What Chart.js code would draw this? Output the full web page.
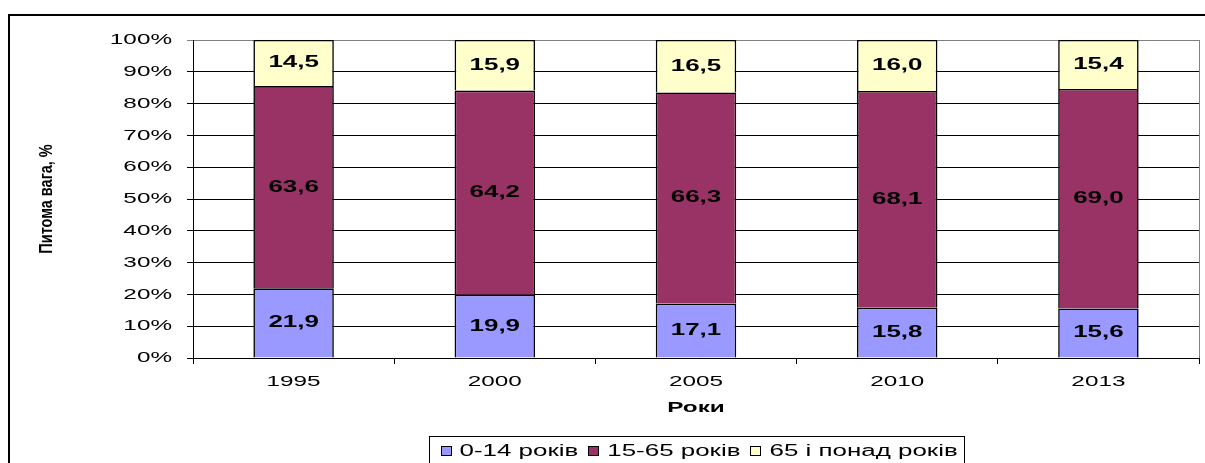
<!DOCTYPE html>
<html>
<head>
<meta charset="utf-8">
<title>Питома вага вікових груп</title>
<script src="https://cdn.jsdelivr.net/npm/chart.js@4/dist/chart.umd.min.js"></script>
<style>
    body { margin: 0; background: #fff; }
    canvas { display: block; }
</style>
</head>
<body>
<canvas id="ageChart" width="1205" height="463"></canvas>
<script>
const years = ['1995', '2000', '2005', '2010', '2013'];
const seriesNames = ['0-14 років', '15-65 років', '65 і понад років'];
const kids = [21.9, 19.9, 17.1, 15.8, 15.6];
const working = [63.6, 64.2, 66.3, 68.1, 69.0];
const elderly = [14.5, 15.9, 16.5, 16.0, 15.4];
const colors = ['#9999FF', '#993366', '#FFFFCC'];

const FONT = '"Liberation Sans", Arial, sans-serif';
const STRETCH = 1.62; // the original text is drawn wide

// 100% stacked: share of each group in the year's total
const totals = years.map((y, i) => kids[i] + working[i] + elderly[i]);
const share = arr => arr.map((v, i) => v / totals[i] * 100);

// widen every text the chart draws, around its anchor point
const wideText = {
    id: 'wideText',
    beforeInit(chart) {
        const ctx = chart.ctx;
        const fill = ctx.fillText.bind(ctx);
        ctx.fillText = function (text, x, y) {
            const m = ctx.getTransform();
            ctx.save();
            ctx.translate(x, y);
            if (Math.abs(m.b) > 0.01) ctx.scale(1, 1.3);
            else ctx.scale(STRETCH, 1);
            fill(text, 0, 0);
            ctx.restore();
        };
    }
};

const barLabels = {
    id: 'barLabels',
    afterDatasetsDraw(chart) {
        const ctx = chart.ctx;
        ctx.save();
        ctx.font = 'bold 16px ' + FONT;
        ctx.fillStyle = '#000';
        ctx.textAlign = 'center';
        ctx.textBaseline = 'middle';
        chart.data.datasets.forEach((ds, i) => {
            chart.getDatasetMeta(i).data.forEach((bar, j) => {
                const text = ds.values[j].toFixed(1).replace('.', ',');
                ctx.fillText(text, bar.x, (bar.y + bar.base) / 2);
            });
        });
        ctx.restore();
    }
};

const frameAndLegend = {
    id: 'frameAndLegend',
    afterDraw(chart) {
        const ctx = chart.ctx;
        const area = chart.chartArea;
        ctx.save();

        // plot area right edge
        ctx.strokeStyle = '#808080';
        ctx.lineWidth = 1;
        ctx.beginPath();
        ctx.moveTo(area.right + 0.5, area.top);
        ctx.lineTo(area.right + 0.5, area.bottom);
        ctx.stroke();

        // outer frame
        ctx.strokeStyle = '#000';
        ctx.lineWidth = 2;
        ctx.beginPath();
        ctx.moveTo(9, 480);
        ctx.lineTo(9, 15);
        ctx.lineTo(1220, 15);
        ctx.stroke();

        // legend
        ctx.font = '16px ' + FONT;
        const items = chart.data.datasets.map(ds => ({
            label: ds.label,
            color: ds.backgroundColor,
            w: ctx.measureText(ds.label).width * STRETCH
        }));
        const box = 10, gapBox = 9, gapItem = 10, padL = 11, padR = 7;
        const contentW = items.reduce((s, it) => s + box + gapBox + it.w, 0) + gapItem * (items.length - 1);
        const boxW = Math.round(contentW + padL + padR);
        const left = Math.round((area.left + area.right) / 2 - boxW / 2) + 0.5;
        const top = 436.5;
        ctx.lineWidth = 1;
        ctx.fillStyle = '#fff';
        ctx.fillRect(left, top, boxW, 40);
        ctx.strokeRect(left, top, boxW, 40);

        let x = left + padL;
        const y = 451.5;
        ctx.textAlign = 'left';
        ctx.textBaseline = 'middle';
        items.forEach(it => {
            const bx = Math.round(x) + 0.5;
            ctx.fillStyle = it.color;
            ctx.fillRect(bx, y - 5, box, box - 1);
            ctx.strokeRect(bx, y - 5, box, box - 1);
            ctx.fillStyle = '#000';
            ctx.fillText(it.label, x + box + gapBox, y);
            x += box + gapBox + it.w + gapItem;
        });
        ctx.restore();
    }
};

function createChart() {
    const ctx = document.getElementById('ageChart').getContext('2d');
    Chart.defaults.font.family = FONT;
    Chart.defaults.color = '#000';

    const groups = [kids, working, elderly];
    const datasets = groups.map((values, i) => ({
        label: seriesNames[i],
        data: share(values),
        values: values,
        backgroundColor: colors[i],
        borderColor: '#000',
        borderWidth: 1.6,
        borderSkipped: 'start',
        barPercentage: 0.4,
        categoryPercentage: 1.0
    }));

    new Chart(ctx, {
        type: 'bar',
        data: { labels: years, datasets: datasets },
        options: {
            responsive: false,
            animation: false,
            layout: { padding: { top: 40, right: 6, left: 0, bottom: 0 } },
            plugins: {
                legend: { display: false },
                tooltip: { enabled: false }
            },
            scales: {
                x: {
                    stacked: true,
                    ticks: { color: '#000', font: { size: 15 }, padding: 9 },
                    grid: { drawOnChartArea: false, drawTicks: true, tickLength: 6, color: '#000', offset: true },
                    border: { color: '#000' },
                    title: {
                        display: true,
                        text: 'Роки',
                        color: '#000',
                        font: { size: 15, weight: 'bold' },
                        padding: { top: 0, bottom: 46 }
                    },
                    afterFit(scale) { scale.height = 105; }
                },
                y: {
                    stacked: true,
                    min: 0,
                    max: 100,
                    ticks: {
                        stepSize: 10,
                        color: '#000',
                        font: { size: 15 },
                        padding: 15,
                        callback: v => v + '%'
                    },
                    grid: {
                        color: c => (c.tick && c.tick.value === 100 ? '#808080' : '#000'),
                        tickLength: 6,
                        drawTicks: true
                    },
                    border: { color: '#000' },
                    title: {
                        display: true,
                        text: 'Питома вага, %',
                        color: '#000',
                        font: { size: 14.5, weight: 'bold' },
                        padding: { top: 38, bottom: 0 }
                    },
                    afterFit(scale) { scale.width = 193; }
                }
            }
        },
        plugins: [wideText, barLabels, frameAndLegend]
    });
}

window.onload = createChart;
</script>
</body>
</html>
